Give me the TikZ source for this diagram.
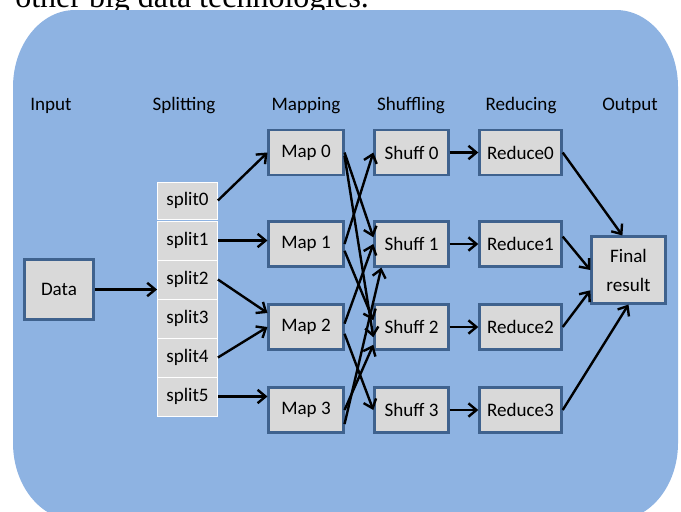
\documentclass[tikz,border=0pt]{standalone}
\usepackage{fontspec}
\setmainfont{Carlito}
\newfontfamily\serifcap{Liberation Serif}
\usetikzlibrary{arrows.meta}
\definecolor{panel}{RGB}{142,179,226}
\definecolor{boxfill}{RGB}{217,217,217}
\definecolor{boxline}{RGB}{63,98,142}

\begin{document}
\begin{tikzpicture}[x=0.75pt,y=-0.75pt,
    box/.style={draw=boxline,fill=boxfill,line width=1.8pt,inner sep=0pt,
      minimum height=33.5pt,font=\fontsize{14.3}{17}\selectfont},
    splitbox/.style={draw=white,fill=boxfill,line width=0.6pt,inner sep=0pt,
      minimum width=45pt,minimum height=29.25pt,font=\fontsize{14.3}{17}\selectfont},
    head/.style={anchor=base,font=\fontsize{14.3}{17}\selectfont},
    arr/.style={line width=1.8pt,-{Straight Barb[length=6pt,width=10pt]}}]
    \useasboundingbox (0,0) rectangle (681,511);
    % caption line running above the panel
    \node[anchor=base west,inner sep=0pt,font=\serifcap\fontsize{24}{28}\selectfont] (intro) at (15,7) {other big data technologies.};
    % panel with oval corners
    \fill[panel] (13,87) arc[start angle=180,end angle=270,x radius=62,y radius=77] -- (616,10)
      arc[start angle=270,end angle=360,x radius=62,y radius=77] -- (678,443)
      arc[start angle=0,end angle=90,x radius=62,y radius=77] -- (75,520)
      arc[start angle=90,end angle=180,x radius=62,y radius=77] -- cycle;
    % column titles
    \node[head] (tinput) at (51,110) {Input}; \node[head] (tsplit) at (184,110) {Splitting};
    \node[head] (tmap) at (306,110) {Mapping}; \node[head] (tshuff) at (411,110) {Shuffling};
    \node[head] (treduce) at (521,110) {Reducing}; \node[head] (toutput) at (630,110) {Output};
    % input and splits
    \node[box,minimum width=52pt,minimum height=45pt] (data) at (59,289.5) {Data};
    \node[splitbox,minimum height=27.75pt] (split0) at (187.5,200.5) {split0};
    \node[splitbox] (split1) at (187.5,240.5) {split1};
    \node[splitbox] (split2) at (187.5,279.5) {split2};
    \node[splitbox] (split3) at (187.5,318.5) {split3};
    \node[splitbox] (split4) at (187.5,357.5) {split4};
    \node[splitbox] (split5) at (187.5,396.5) {split5};
    % map, shuffle and reduce columns
    \node[box,minimum width=56pt] (map0) at (306,152.5) {Map 0}; \node[box,minimum width=56pt] (map1) at (306,244) {Map 1};
    \node[box,minimum width=56pt] (map2) at (306,327) {Map 2}; \node[box,minimum width=56pt] (map3) at (306,410) {Map 3};
    \node[box,minimum width=55.5pt] (shuff0) at (411.5,152.5) {Shuff 0}; \node[box,minimum width=55.5pt] (shuff1) at (411.5,244) {Shuff 1};
    \node[box,minimum width=55.5pt] (shuff2) at (411.5,327) {Shuff 2}; \node[box,minimum width=55.5pt] (shuff3) at (411.5,410) {Shuff 3};
    \node[box,minimum width=61.5pt] (reduce0) at (520.5,152.5) {Reduce0}; \node[box,minimum width=61.5pt] (reduce1) at (520.5,244) {Reduce1};
    \node[box,minimum width=61.5pt] (reduce2) at (520.5,327) {Reduce2}; \node[box,minimum width=61.5pt] (reduce3) at (520.5,410) {Reduce3};
    \node[box,minimum width=55.5pt,minimum height=50pt,align=center,font=\fontsize{14.3}{21.75}\selectfont] (final) at (628.5,270) {Final\\result};
    % splitting and mapping
    \draw[arr] (data.east) -- (split2.west |- data.east);
    \draw[arr] (split0.east) -- (map0.west);
    \draw[arr] (split1.east) -- (map1.west |- split1.east);
    \draw[arr] (split2.east) -- (map2.160);
    \draw[arr] (split4.east) -- (map2.west);
    \draw[arr] (split5.east) -- (map3.west |- split5.east);
    % shuffle crossings
    \draw[arr] (map0.east) -- (shuff1.170); \draw[arr] (map0.-5) -- (shuff2.195);
    \draw[arr] (map1.east) -- (shuff0.west); \draw[arr] (map1.-10) -- (shuff2.170);
    \draw[arr] (map2.5) -- (shuff1.west); \draw[arr] (map2.-10) -- (shuff3.west);
    \draw[arr] (map3.east) -- (shuff2.205); \draw[arr] (map3.-20) -- (shuff1.218);
    % reducing and output
    \draw[arr] (shuff0.east) -- (reduce0.west); \draw[arr] (shuff1.east) -- (reduce1.west);
    \draw[arr] (shuff2.east) -- (reduce2.west); \draw[arr] (shuff3.east) -- (reduce3.west);
    \draw[arr] (reduce0.east) -- (final.100); \draw[arr] (reduce1.10) -- (final.west);
    \draw[arr] (reduce2.east) -- (final.208); \draw[arr] (reduce3.east) -- (final.south);
  \end{tikzpicture}
\end{document}
